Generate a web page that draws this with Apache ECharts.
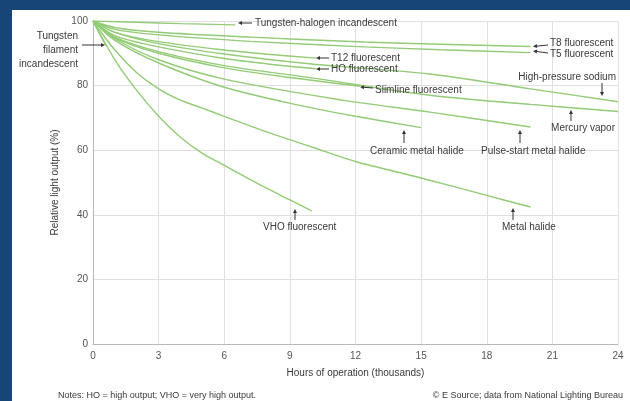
<!DOCTYPE html>
<html>
<head>
<meta charset="utf-8">
<script src="https://cdn.jsdelivr.net/npm/echarts@6/dist/echarts.min.js"></script>
<style>
html,body{margin:0;padding:0;background:#174577;}
#wrap{position:absolute;left:12px;top:10px;width:618px;height:391px;background:#ffffff;}
#chart{position:absolute;left:0;top:0;width:630px;height:401px;}
</style>
</head>
<body>
<div id="wrap"></div>
<div id="chart"></div>
<script>
// Hours of operation (thousands) ticks
const xTicks = [0, 3, 6, 9, 12, 15, 18, 21, 24];
const yTicks = [0, 20, 40, 60, 80, 100];

// Each lamp curve: [hours (thousands), relative light output (%)]
const tungstenHalogen = [[0,100],[2,99.6],[4,99.2],[6.5,98.8]];
const tungstenFilament = [[0,100],[0.3,96],[0.6,92.3]];
const t8Fluorescent = [[0,100],[1,98],[3,96.5],[7.2,95],[12.4,93.5],[15.9,92.8],[20,92.1]];
const t5Fluorescent = [[0,100],[1,97.4],[3,95.7],[7.2,93.7],[12.4,92],[15.9,91.1],[20,90.2]];
const t12Fluorescent = [[0,100],[1,96.5],[3,93.6],[6,91],[8,89.7],[10.2,88.5]];
const hoFluorescent = [[0,100],[1,95.5],[3,92],[6,88.4],[8,86.7],[10.2,85.2]];
const slimlineFluorescent = [[0,100],[1,94.8],[3,90],[6,85.5],[9,82.5],[12.2,79.8]];
const highPressureSodium = [[0,100],[1,96.5],[3,93],[6,89.8],[10,86.7],[15.4,83.6],[20,79],[24,75]];
const mercuryVapor = [[0,100],[1,95],[3,90.5],[6,86.2],[10,82.4],[15.4,77],[20,74.2],[24,72]];
const ceramicMetalHalide = [[0,100],[1,94],[3,87],[6,79.5],[9.5,73.8],[12,70.5],[15,67]];
const pulseStartMetalHalide = [[0,100],[1,94.5],[3,88],[6,82],[11.4,75.5],[15.4,71.8],[20,67.2]];
const metalHalide = [[0,100],[1,91],[2,84],[3,79],[4,75.5],[5,73],[6,70.5],[8,65.5],[10,61],[12,56.5],[15,51.4],[18,46],[20,42.4]];
const vhoFluorescent = [[0,100],[1,88],[2,78.5],[3,70.5],[4,64],[5,59],[6,55.3],[7,51.6],[8,48],[9,44.6],[10,41.2]];

const curves = [tungstenHalogen, tungstenFilament, t8Fluorescent, t5Fluorescent, t12Fluorescent,
  hoFluorescent, slimlineFluorescent, highPressureSodium, mercuryVapor, ceramicMetalHalide,
  pulseStartMetalHalide, metalHalide, vhoFluorescent];

const LINE = '#93cb76';
const TXT = '#3a3a3a';
const FONT = 'Liberation Sans, Arial, sans-serif';

const chart = echarts.init(document.getElementById('chart'), null, {renderer:'canvas'});

function txt(x, y, s, align, size) {
  return {type:'text', x:x, y:y, style:{text:s, fill:TXT, font:(size||10)+'px ' + FONT,
    textAlign:align||'left', textVerticalAlign:'middle'}, z:10};
}
function arrow(x1, y1, x2, y2) {
  const dx = x2 - x1, dy = y2 - y1, L = Math.hypot(dx, dy);
  const ux = dx / L, uy = dy / L, hl = 4, hw = 2;
  const bx = x2 - ux * hl, by = y2 - uy * hl;
  return [
    {type:'line', shape:{x1:x1, y1:y1, x2:bx, y2:by}, style:{stroke:'#333', lineWidth:1}, z:10},
    {type:'polygon', shape:{points:[[x2,y2],[bx - uy*hw, by + ux*hw],[bx + uy*hw, by - ux*hw]]},
      style:{fill:'#333'}, z:10}
  ];
}

const graphics = [
  txt(255, 23, 'Tungsten-halogen incandescent'),
  ...arrow(252, 23, 238, 23),
  txt(78, 36, 'Tungsten', 'right'),
  txt(78, 50, 'filament', 'right'),
  txt(78, 64, 'incandescent', 'right'),
  ...arrow(82, 45, 105, 45),
  txt(550, 43, 'T8 fluorescent'),
  txt(550, 54, 'T5 fluorescent'),
  ...arrow(548, 45, 533, 46.5),
  ...arrow(548, 53, 533, 51),
  txt(331, 58, 'T12 fluorescent'),
  ...arrow(329, 58, 316, 58),
  txt(331, 69, 'HO fluorescent'),
  ...arrow(329, 69, 316, 69),
  txt(375, 90, 'Slimline fluorescent'),
  ...arrow(373, 88, 360, 87),
  txt(616, 77, 'High-pressure sodium', 'right'),
  ...arrow(602, 83, 602, 96),
  txt(615, 128, 'Mercury vapor', 'right'),
  ...arrow(571, 121, 571, 110),
  txt(370, 151, 'Ceramic metal halide'),
  ...arrow(404, 143, 404, 130),
  txt(481, 151, 'Pulse-start metal halide'),
  ...arrow(520, 143, 520, 130),
  txt(502, 227, 'Metal halide'),
  ...arrow(513, 220, 513, 208),
  txt(263, 227, 'VHO fluorescent'),
  ...arrow(295, 220, 295, 209),
  txt(58, 396, 'Notes: HO = high output; VHO = very high output.', 'left', 9),
  txt(623, 396, '\u00a9 E Source; data from National Lighting Bureau', 'right', 9)
];

const option = {
  animation:false,
  backgroundColor:'transparent',
  grid:{left:93, right:12, top:21, bottom:57},
  xAxis:{type:'value', min:xTicks[0], max:xTicks[xTicks.length-1], interval:3,
    name:'Hours of operation (thousands)', nameLocation:'middle', nameGap:24,
    nameTextStyle:{color:TXT, fontSize:10, fontFamily:FONT},
    axisLine:{lineStyle:{color:'#b8b8b8'}}, axisTick:{show:false},
    axisLabel:{color:'#555', fontSize:10, fontFamily:FONT, margin:7},
    splitLine:{lineStyle:{color:'#e0e0e0'}}},
  yAxis:{type:'value', min:yTicks[0], max:yTicks[yTicks.length-1], interval:20,
    name:'Relative light output (%)', nameLocation:'middle', nameGap:22, nameRotate:90,
    nameTextStyle:{color:TXT, fontSize:10, fontFamily:FONT},
    axisLine:{show:true, lineStyle:{color:'#b8b8b8'}}, axisTick:{show:false},
    axisLabel:{color:'#555', fontSize:10, fontFamily:FONT, margin:5},
    splitLine:{lineStyle:{color:'#e0e0e0'}}},
  series: curves.map(d => ({type:'line', data:d, smooth:0.3, showSymbol:false,
    lineStyle:{color:LINE, width:1.4}})),
  graphic: graphics
};
chart.setOption(option);
</script>
</body>
</html>
